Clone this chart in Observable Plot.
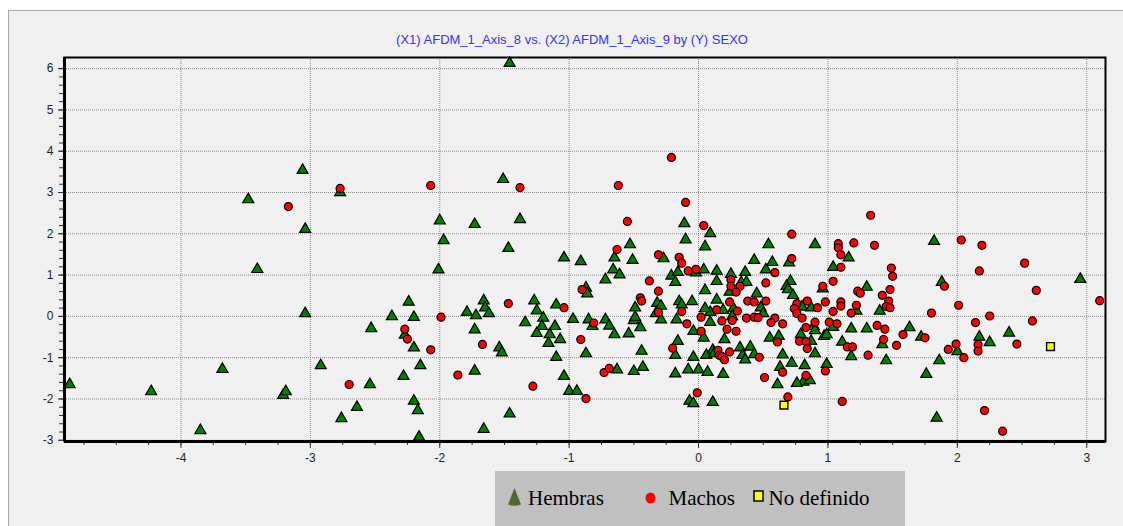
<!DOCTYPE html>
<html>
<head>
<meta charset="utf-8">
<script src="https://cdn.jsdelivr.net/npm/d3@7"></script>
<script src="https://cdn.jsdelivr.net/npm/@observablehq/plot@0.6"></script>
<style>
html,body{margin:0;padding:0;background:#fff;width:1123px;height:526px;overflow:hidden;}
#panel{position:absolute;left:8px;top:10px;width:1115px;height:516px;background:#f0f0f0;border-top:1px solid #a8a8a8;border-left:1px solid #a8a8a8;box-sizing:border-box;}
#chart{position:absolute;left:0;top:0;}
#title{position:absolute;left:0;width:1144px;top:32px;text-align:center;font-family:"Liberation Sans",Arial,sans-serif;font-size:13px;line-height:15px;color:#3535f2;white-space:nowrap;}
#legend{position:absolute;left:495px;top:471px;}
</style>
</head>
<body>
<div id="panel"></div>
<div id="title">(X1) AFDM_1_Axis_8 vs. (X2) AFDM_1_Axis_9 by (Y) SEXO</div>
<div id="chart"></div>
<svg id="legend" width="410" height="55" xmlns="http://www.w3.org/2000/svg">
  <rect x="0" y="0" width="410" height="55" fill="#c0c0c0"/>
  <path d="M19.5,17 L26,33.5 Q19.5,36 13,33.5 Z" fill="#4e6a2c"/>
  <text x="33" y="34" font-family="'Liberation Serif','Times New Roman',serif" font-size="21" fill="#000">Hembras</text>
  <ellipse cx="155.5" cy="27" rx="5" ry="5.5" fill="#ff0000"/>
  <text x="173.5" y="34" font-family="'Liberation Serif','Times New Roman',serif" font-size="21" fill="#000">Machos</text>
  <rect x="259" y="20" width="9" height="10" fill="#ffff00" stroke="#000" stroke-width="1.5"/>
  <text x="273.6" y="34" font-family="'Liberation Serif','Times New Roman',serif" font-size="21" fill="#000">No definido</text>
</svg>
<script>
// ---- data: [x (AFDM_1_Axis_8), y (AFDM_1_Axis_9)] ----
const hembras = [
[-4.86,-1.65],[-4.23,-1.82],[-3.85,-2.76],[-3.68,-1.28],[-3.48,2.83],[-3.41,1.14],[-3.21,-1.91],[-3.19,-1.82],
[-3.06,3.54],[-3.04,2.11],[-3.04,0.07],[-2.92,-1.19],[-2.77,3.00],[-2.76,-2.47],[-2.64,-2.20],[-2.54,-1.65],
[-2.53,-0.29],[-2.37,0.00],[-1.46,6.13],[-1.51,3.32],[-2.00,2.32],[-1.73,2.23],[-1.97,1.84],[-1.38,2.35],
[-1.47,1.65],[-0.11,2.25],[0.09,2.01],[-0.10,1.86],[0.05,1.69],[-0.53,1.74],[-1.04,1.42],[-0.91,1.33],
[-2.01,1.13],[-2.24,0.35],[-2.20,-0.02],[-2.27,-0.45],[-2.20,-0.76],[-2.15,-1.19],[-2.28,-1.45],[-2.20,-2.05],
[-2.17,-2.28],[-2.16,-2.92],[-1.66,0.38],[-1.79,0.10],[-1.72,0.02],[-1.65,0.21],[-1.62,0.07],[-1.73,-0.32],
[-1.73,-1.32],[-1.54,-0.76],[-1.52,-0.88],[-1.66,-2.73],[-1.46,-2.36],[-1.27,0.38],[-1.25,0.14],[-1.34,-0.15],
[-1.20,-0.04],[-1.21,-0.24],[-1.25,-0.41],[-1.15,-0.44],[-1.11,-0.24],[-1.16,-0.65],[-1.07,-0.56],[-1.10,-0.99],
[-1.10,0.28],[-1.04,-1.45],[-1.00,-1.81],[-0.94,-1.81],[-0.97,-0.07],[-0.87,-0.90],[-0.87,0.69],[-0.86,0.55],
[-0.85,-0.08],[-0.65,1.42],[-0.51,1.36],[-0.27,1.40],[-0.66,1.13],[-0.61,1.01],[-0.72,0.89],[-0.21,0.98],
[-0.16,1.07],[-0.18,0.83],[-0.02,1.06],[0.04,1.13],[-0.49,0.21],[-0.32,0.32],[-0.29,0.25],[-0.33,0.07],
[-0.29,-0.08],[-0.15,0.36],[-0.13,0.28],[-0.05,0.36],[0.05,0.63],[-0.17,-0.08],[-0.04,-0.36],[0.04,-0.52],
[-0.50,-0.10],[-0.49,-0.02],[-0.45,-0.27],[-0.72,-0.08],[-0.82,-0.24],[-0.69,-0.23],[-0.65,-0.44],[-0.54,-0.42],
[-0.44,-0.84],[-0.16,-0.60],[-0.18,-0.94],[-0.04,-0.99],[0.06,-0.94],[-0.63,-1.29],[-0.50,-1.33],[-0.43,-1.23],
[-0.18,-1.39],[-0.08,-1.29],[0.00,-1.29],[0.07,-1.35],[-0.07,-2.05],[-0.04,-2.11],[0.11,-2.08],[0.54,1.74],
[0.90,1.74],[0.43,1.36],[0.57,1.31],[0.70,1.30],[0.14,1.10],[0.25,1.02],[0.36,1.07],[0.52,1.13],
[0.14,0.85],[0.33,0.82],[0.37,0.83],[0.71,0.85],[0.68,0.73],[0.69,0.65],[0.24,0.59],[0.45,0.55],
[0.73,0.51],[0.14,0.40],[0.48,0.21],[0.50,0.07],[0.80,0.23],[0.87,0.21],[0.09,0.10],[0.05,0.19],
[0.19,0.15],[0.27,0.19],[0.26,0.00],[0.09,-0.14],[0.89,-0.24],[0.20,-0.56],[0.55,-0.52],[0.62,-0.48],
[0.79,-0.44],[0.87,-0.60],[0.90,-0.34],[0.32,-0.76],[0.40,-0.74],[0.11,-0.82],[0.12,-0.90],[0.34,-0.94],
[0.36,-1.05],[0.43,-0.92],[0.65,-0.93],[0.72,-1.13],[0.82,-1.19],[0.90,-0.90],[0.63,-1.23],[0.19,-1.40],
[0.81,-1.59],[0.86,-1.55],[0.76,-1.62],[0.61,-1.65],[1.82,1.82],[1.16,1.42],[1.04,1.19],[0.96,0.67],
[1.30,0.71],[1.22,0.13],[1.40,0.13],[1.04,-0.26],[0.97,-0.48],[0.99,-0.44],[1.18,-0.30],[1.30,-0.30],
[1.63,-0.27],[1.72,-0.50],[1.11,-0.62],[1.18,-0.97],[1.42,-0.68],[1.45,-1.07],[0.99,-1.16],[1.76,-1.40],
[2.95,0.90],[1.88,0.83],[2.40,-0.40],[2.17,-0.50],[2.25,-0.63],[2.00,-0.85],[1.86,-1.07],[1.84,-2.46]
];
const machos = [
[-3.17,2.66],[-2.77,3.10],[-2.70,-1.65],[-0.21,3.85],[-2.07,3.17],[-1.38,3.12],[-0.62,3.17],[-0.55,2.30],
[-0.10,2.76],[0.04,2.20],[-0.63,1.62],[-1.99,-0.02],[-2.27,-0.31],[-2.25,-0.55],[-2.07,-0.81],[-1.67,-0.68],
[-1.86,-1.42],[-1.47,0.31],[-1.04,0.21],[-0.87,-1.99],[-1.28,-1.69],[-0.91,-0.56],[-0.90,0.65],[-0.31,1.49],
[-0.15,1.43],[-0.13,1.29],[-0.38,0.86],[-0.08,1.10],[-0.02,1.14],[-0.31,0.61],[-0.45,0.45],[-0.44,0.37],
[-0.31,0.10],[-0.13,0.12],[0.02,-0.02],[-0.09,-0.18],[0.02,-0.36],[-0.81,-0.16],[-0.20,-0.77],[-0.73,-1.36],
[-0.69,-1.26],[-0.01,-1.85],[0.72,1.99],[0.72,1.40],[0.59,1.06],[0.25,0.89],[0.32,0.73],[0.52,0.81],
[0.25,0.73],[0.29,0.59],[0.24,0.35],[0.38,0.37],[0.43,0.35],[0.52,0.37],[0.76,0.31],[0.84,0.37],
[0.92,0.21],[0.74,0.19],[0.76,0.07],[0.14,0.16],[0.30,0.13],[0.26,-0.10],[0.18,-0.11],[0.37,-0.04],
[0.43,-0.02],[0.46,-0.03],[0.59,-0.04],[0.56,-0.15],[0.65,-0.18],[0.80,-0.04],[0.90,-0.14],[0.83,-0.27],
[0.22,-0.31],[0.29,-0.36],[0.61,-0.62],[0.78,-0.60],[0.83,-0.61],[0.84,-0.78],[0.24,-0.86],[0.15,-0.82],
[0.16,-0.94],[0.18,-0.97],[0.20,-1.05],[0.47,-0.99],[0.65,-1.35],[0.51,-1.48],[0.83,-1.43],[0.69,-1.95],
[1.33,2.45],[1.08,1.76],[1.08,1.66],[1.20,1.78],[1.36,1.72],[2.03,1.85],[2.19,1.72],[1.10,1.49],
[1.10,1.19],[1.49,1.17],[1.50,0.97],[1.04,0.85],[0.96,0.73],[1.23,0.61],[1.25,0.56],[1.48,0.65],
[1.42,0.51],[1.47,0.37],[0.98,0.35],[1.10,0.35],[1.10,0.25],[1.22,0.27],[1.04,0.12],[1.18,0.08],
[1.45,0.24],[1.48,0.21],[1.80,0.08],[1.01,-0.14],[1.07,-0.18],[1.38,-0.22],[1.44,-0.31],[1.58,-0.44],
[1.75,-0.52],[1.15,-0.74],[1.19,-0.74],[1.31,-0.94],[1.43,-0.56],[1.53,-0.70],[0.98,-1.32],[1.11,-2.06],
[2.52,1.29],[2.17,1.10],[1.90,0.73],[2.61,0.63],[3.10,0.38],[2.01,0.27],[2.25,0.01],[2.14,-0.15],
[2.58,-0.11],[2.16,-0.68],[2.16,-0.84],[2.46,-0.67],[1.99,-0.67],[2.05,-1.00],[1.93,-0.80],[2.21,-2.28],
[2.35,-2.78]
];
const noDefinido = [[0.66,-2.15],[2.72,-0.73]];

const xTicks = [-4,-3,-2,-1,0,1,2,3];
const yTicks = [-3,-2,-1,0,1,2,3,4,5,6];
const xDomain = [-4.90, 3.145];
const yDomain = [-3.03, 6.27];
const xMinor = d3.range(-4.75, 3.15, 0.25);
const yMinor = d3.range(-3, 6.01, 0.2);

const px = d => d[0], py = d => d[1];
const fmt = d => String(d);

const chart = Plot.plot({
  width: 1123,
  height: 470,
  marginLeft: 64,
  marginRight: 18,
  marginTop: 57,
  marginBottom: 29,
  x: {domain: xDomain},
  y: {domain: yDomain},
  style: {background: "transparent", fontFamily: "'Liberation Sans', Arial, sans-serif", fontSize: "12px", color: "#222", overflow: "visible"},
  marks: [
    Plot.gridX(xTicks, {stroke: "#8a8a8a", strokeOpacity: 1, strokeDasharray: "1,1"}),
    Plot.gridY(yTicks, {stroke: "#8a8a8a", strokeOpacity: 1, strokeDasharray: "1,1"}),
    Plot.axisY(yMinor, {tickSize: 5, fill: "none", label: null, stroke: "#333"}),
    Plot.axisY(yTicks, {tickSize: 6, tickPadding: 5, tickFormat: fmt, label: null, stroke: "#333", fill: "#222"}),
    Plot.axisX(xMinor, {tickSize: 4, fill: "none", label: null, stroke: "#333"}),
    Plot.axisX(xTicks, {tickSize: 7, tickPadding: 5, tickFormat: fmt, label: null, stroke: "#333", fill: "#222"}),
    Plot.dot(hembras, {x: px, y: py, symbol: "triangle", r: 4.1, fill: "#008000", stroke: "black", strokeWidth: 1.2}),
    Plot.dot(machos, {x: px, y: py, r: 4, fill: "#ff0000", stroke: "black", strokeWidth: 1.2}),
    Plot.dot(noDefinido, {x: px, y: py, symbol: "square", r: 4.4, fill: "#ffff00", stroke: "black", strokeWidth: 1.4}),
    Plot.frame({stroke: "black", strokeWidth: 2}),
    Plot.ruleX([xDomain[0]], {stroke: "black", strokeWidth: 3}),
    Plot.ruleY([yDomain[0]], {stroke: "black", strokeWidth: 3})
  ]
});
document.getElementById("chart").appendChild(chart);
</script>
</body>
</html>
